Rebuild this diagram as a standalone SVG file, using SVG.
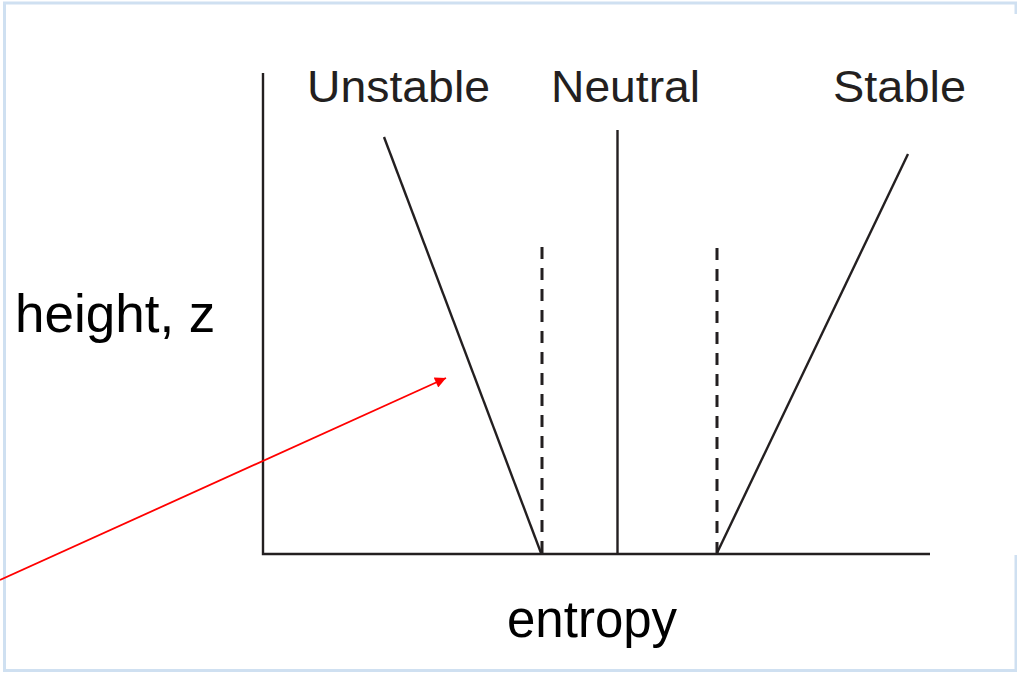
<svg xmlns="http://www.w3.org/2000/svg" width="1017" height="674" viewBox="0 0 1017 674">
<style>
.ax{stroke:#231f20;stroke-width:2.4;fill:none}
.dash{stroke:#231f20;stroke-width:3;stroke-dasharray:12 9;fill:none}
.lbl{font-family:"Liberation Sans",Arial,sans-serif;font-size:44px;fill:#231f20}
.big{font-family:"Liberation Sans",Arial,sans-serif;fill:#000}
.frame{stroke:#cfe0f1;stroke-width:3;fill:none}
</style>
<defs>
<marker id="ah" viewBox="0 0 10 10" refX="10" refY="5" markerWidth="15" markerHeight="11" markerUnits="userSpaceOnUse" orient="auto">
<path d="M0,0 L10,5 L0,10 Z" fill="#ff0000"/>
</marker>
</defs>
<rect width="1017" height="674" fill="#ffffff"/>
<g id="frame">
<path class="frame" d="M1016,14 V3 H4.5 V670.5 H1016 V555"/>
</g>
<g id="axes">
<path class="ax" d="M263,73 V554 H930"/>
</g>
<g id="unstable">
<line class="ax" x1="384" y1="137" x2="541" y2="553"/>
<line class="dash" x1="542" y1="247" x2="542" y2="553"/>
<text class="lbl" x="307" y="102" textLength="183" lengthAdjust="spacingAndGlyphs">Unstable</text>
</g>
<g id="neutral">
<line class="ax" x1="617.5" y1="130" x2="617.5" y2="554"/>
<text class="lbl" x="551" y="102" textLength="149" lengthAdjust="spacingAndGlyphs">Neutral</text>
</g>
<g id="stable">
<line class="ax" x1="717" y1="553" x2="908" y2="154"/>
<line class="dash" x1="717" y1="248" x2="717" y2="553"/>
<text class="lbl" x="833" y="102" textLength="133" lengthAdjust="spacingAndGlyphs">Stable</text>
</g>
<g id="ylabel">
<text class="big" x="15" y="332" font-size="53">height, z</text>
</g>
<g id="xlabel">
<text class="big" x="507" y="637" font-size="51">entropy</text>
</g>
<g id="connectors">
<line x1="0" y1="580" x2="446" y2="378" stroke="#ff0000" stroke-width="1.8" marker-end="url(#ah)"/>
</g>
</svg>
